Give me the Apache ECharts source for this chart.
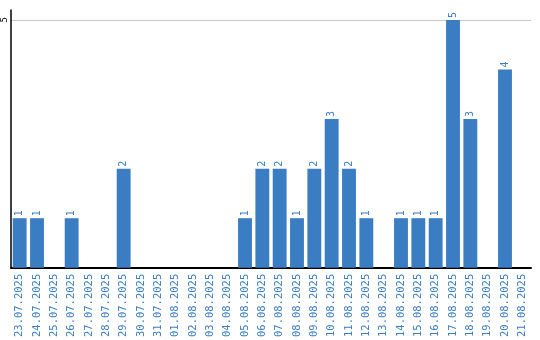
<!DOCTYPE html>
<html><head><meta charset="utf-8">
<script src="https://cdn.jsdelivr.net/npm/echarts@6/dist/echarts.min.js"></script>
<style>html,body{margin:0;padding:0;background:#fff}#c{width:540px;height:340px}</style>
</head><body><div id="c"></div>
<script>
const categories = ["23.07.2025","24.07.2025","25.07.2025","26.07.2025","27.07.2025","28.07.2025","29.07.2025","30.07.2025","31.07.2025","01.08.2025","02.08.2025","03.08.2025","04.08.2025","05.08.2025","06.08.2025","07.08.2025","08.08.2025","09.08.2025","10.08.2025","11.08.2025","12.08.2025","13.08.2025","14.08.2025","15.08.2025","16.08.2025","17.08.2025","18.08.2025","19.08.2025","20.08.2025","21.08.2025"];
const values = [1,1,0,1,0,0,2,0,0,0,0,0,0,1,2,2,1,2,3,2,1,0,1,1,1,5,3,0,4,0];
const yTicks = [5];
const chart = echarts.init(document.getElementById('c'));
chart.setOption({
  animation: false,
  grid: {left: 10, right: 9, top: 10, bottom: 70, containLabel: false},
  xAxis: {
    type: 'category', data: categories,
    axisLine: {lineStyle: {color: '#000', width: 2}},
    axisTick: {show: false},
    axisLabel: {rotate: 90, color: '#3a7dc2', fontFamily: 'DejaVu Sans Mono', fontSize: 10.5, margin: 6, interval: 0}
  },
  yAxis: {
    type: 'value', min: 0, max: 5.2, interval: 5,
    axisLine: {show: true, lineStyle: {color: '#000', width: 1.5}},
    axisTick: {show: false},
    splitLine: {showMaxLine: false, showMinLine: false, lineStyle: {color: '#c8c8c8', width: 1}},
    axisLabel: {rotate: 90, color: '#000', fontFamily: 'DejaVu Sans Mono', fontSize: 9, margin: 2,
      formatter: v => yTicks.includes(v) ? String(v) : ''}
  },
  series: [{
    type: 'bar', data: values, barCategoryGap: '20%',
    itemStyle: {color: '#3a7dc2'},
    label: {show: true, position: 'top', rotate: 90, align: 'left', verticalAlign: 'middle', distance: 2,
      color: '#3a7dc2', fontFamily: 'DejaVu Sans Mono', fontSize: 10,
      formatter: p => p.value ? String(p.value) : ''}
  }]
});
</script></body></html>
